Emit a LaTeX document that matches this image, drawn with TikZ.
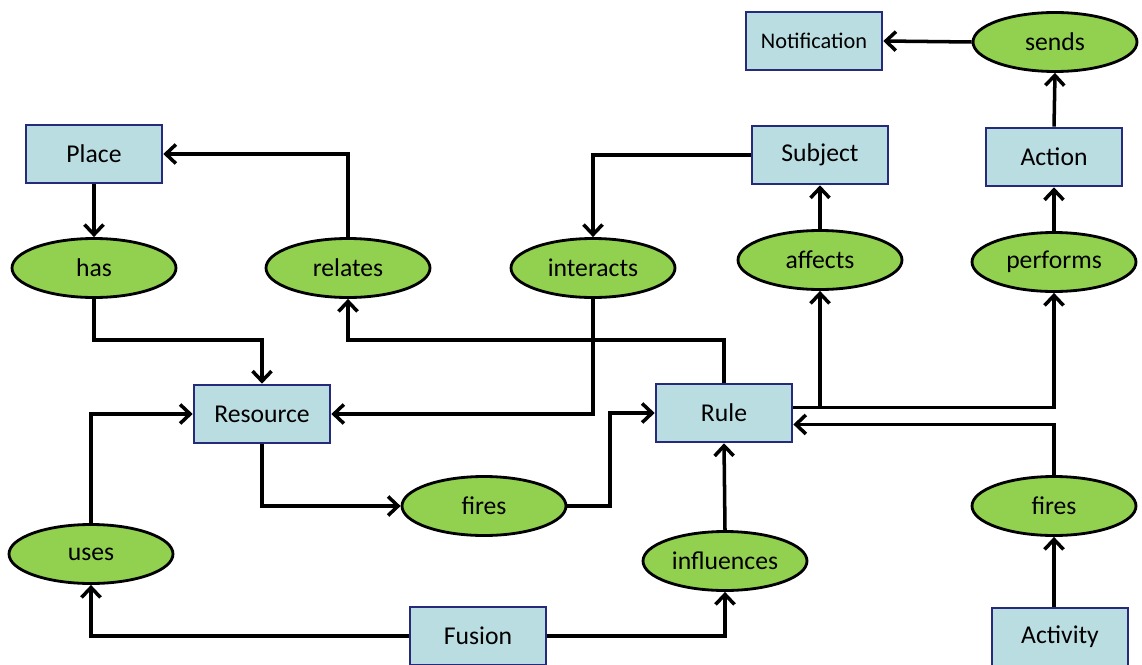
\documentclass[tikz,border=0pt]{standalone}
\usepackage{fontspec}
\setmainfont{Carlito}
\usetikzlibrary{arrows.meta, shapes.geometric}
\definecolor{boxfill}{RGB}{186,221,226}
\definecolor{boxline}{RGB}{38,42,122}
\definecolor{ellfill}{RGB}{146,208,80}

\begin{document}
\begin{tikzpicture}[>={Straight Barb[length=2mm, width=3.8mm]},
  font=\fontsize{14.6}{16}\selectfont,
  line width=2pt,
  ent/.style={draw=boxline, fill=boxfill, line width=1.5pt, minimum width=27.2mm, minimum height=11.6mm, inner sep=2pt},
  rel/.style={draw=black, fill=ellfill, ellipse, line width=1.6pt, minimum width=32.8mm, minimum height=11.8mm, inner sep=0pt}]

\useasboundingbox (0,0) rectangle (22.84,-13.28);

%% ===================== entities =====================
\node[ent, font=\fontsize{12.7}{14}\selectfont] (notif) at (16.28,-0.82) {Notification};
\node[ent] (place) at (1.88,-3.08)  {Place};
\node[ent] (subj)  at (16.40,-3.10) {Subject};
\node[ent] (act)   at (21.08,-3.14) {Action};
\node[ent] (res)   at (5.24,-8.28)  {Resource};
\node[ent] (rule)  at (14.48,-8.26) {Rule};
\node[ent] (fus)   at (9.56,-12.72) {Fusion};
\node[ent] (actv)  at (21.20,-12.74) {Activity};

%% ===================== relations =====================
\node[rel] (sends)  at (21.10,-0.84)  {sends};
\node[rel] (has)    at (1.88,-5.36)   {has};
\node[rel] (relt)   at (6.96,-5.36)   {relates};
\node[rel] (inter)  at (11.86,-5.36)  {interacts};
\node[rel] (aff)    at (16.40,-5.20)  {affects};
\node[rel] (perf)   at (21.08,-5.24)  {performs};
\node[rel] (firesm) at (9.68,-10.12)  {fires};
\node[rel] (uses)   at (1.82,-11.08)  {uses};
\node[rel] (infl)   at (14.50,-11.22) {influences};
\node[rel] (firesr) at (21.08,-10.12) {fires};

\coordinate (bus) at (0,-6.80);
\coordinate (kink) at (12.20,0);

%% ===================== top row =====================
\draw[->] (sends.west) -- (notif.east);
\draw[->] (act.north) -- (sends.south);
\draw[->] (perf.north) -- (act.south);
\draw[->] (aff.north) -- (subj.south);
\draw[->] (place.south) -- (has.north);
\draw[->] (relt.north) |- (place.east);
\draw[->] (subj.west) -| (inter.north);

%% ===================== middle =====================
\draw[->] (has.south) |- (bus -| res.north) -- (res.north);
\draw[->] (rule.north) |- (bus -| relt.south) -- (relt.south);
\draw[->] (inter.south) |- (res.east);
\draw[->] ([yshift=3pt]rule.east) -| (aff.south);
\draw[->] ([yshift=3pt]rule.east) -| (perf.south);
\draw[->] (firesr.north) |- ([yshift=-6.5pt]rule.east);

%% ===================== bottom =====================
\draw[->] (uses.north) |- (res.west);
\draw[->] (res.south) |- (firesm.west);
\draw[->] (firesm.east) -| (kink |- firesm.east) |- (rule.west);
\draw[->] (infl.north) -- (rule.south);
\draw[->] (fus.west) -| (uses.south);
\draw[->] (fus.east) -| (infl.south);
\draw[->] (actv.north -| firesr) -- (firesr.south);

\end{tikzpicture}
\end{document}
